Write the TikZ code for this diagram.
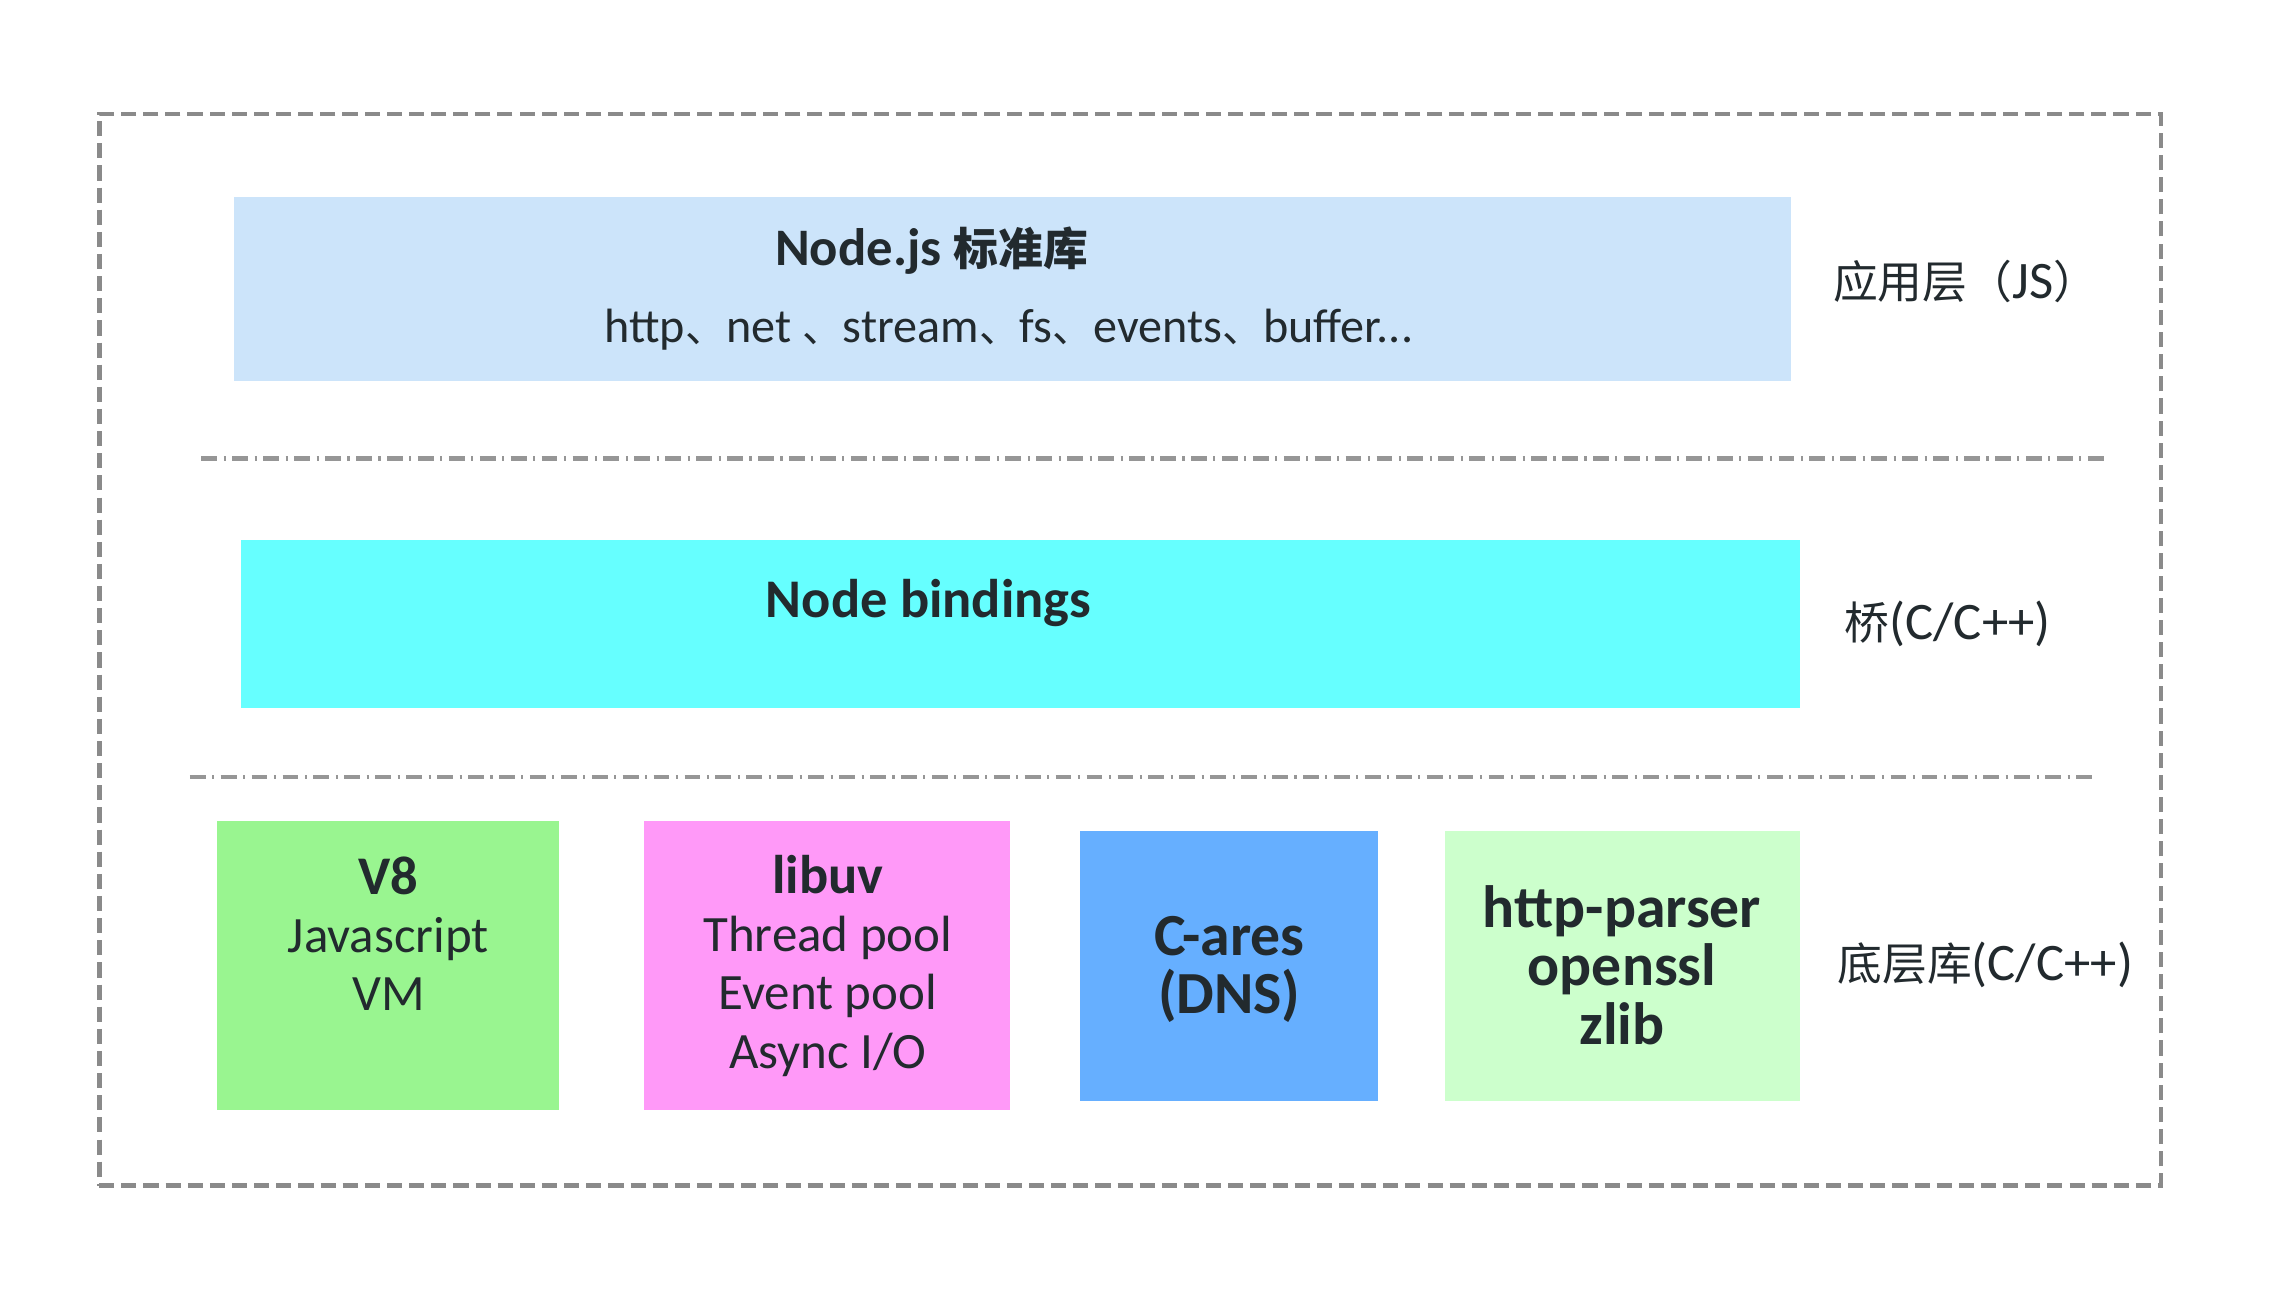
\documentclass[tikz,border=0pt]{standalone}
\usepackage{fontspec}
\setmainfont{Carlito}
\newfontfamily\cjk{Noto Sans CJK SC}[Scale=0.85]
\usepackage{tikz}
\definecolor{textdark}{HTML}{222A2E}
\definecolor{framegray}{HTML}{8A8A8A}
\definecolor{stdblue}{HTML}{CCE4FA}
\definecolor{bindcyan}{HTML}{66FFFF}
\definecolor{veightgreen}{HTML}{99F590}
\definecolor{uvpink}{HTML}{FF99F8}
\definecolor{aresblue}{HTML}{66AFFF}
\definecolor{palegreen}{HTML}{CCFFCC}
\tikzset{
    every node/.style={inner sep=0mm, text=textdark}
}
\tikzset{
    layer/.style={rectangle, draw=none},
    framebox/.style={rectangle, draw=framegray, line width=1.3pt, dash pattern=on 4.3pt off 2pt},
    sepline/.style={draw=framegray!90, line width=1.2pt, dash pattern=on 4.5pt off 1.85pt on 0.6pt off 1.85pt},
    libtext/.style={align=center, font=\fontsize{14.5}{16.6}\selectfont},
    sidetext/.style={anchor=west, font=\fontsize{15}{18}\selectfont}
}

\begin{document}
\begin{tikzpicture}[x=0.0146cm, y=-0.0146cm]
        \useasboundingbox[fill=white] (0,0) rectangle (1568.5,898.6);
        \node (frame) [framebox, minimum width=20.62cm, minimum height=10.72cm] at (774, 445) {};
        % application layer
        \node (std) [layer, fill=stdblue, minimum width=15.58cm, minimum height=1.84cm] at (693.5, 198) {};
        \node (stdtitle) [font=\fontsize{15}{18}\selectfont\bfseries] at (638, 172) {Node.js {\cjk 标准库}};
        \node (stdmods) [font=\fontsize{13.7}{16}\selectfont] at (691, 226) {http{\cjk 、}net {\cjk 、}stream{\cjk 、}fs{\cjk 、}events{\cjk 、}buffer...};
        \node (applabel) [sidetext] at (1255, 193) {{\cjk 应用层（}JS{\cjk ）}};
        % bridge
        \node (bind) [layer, fill=bindcyan, minimum width=15.59cm, minimum height=1.68cm] at (699, 427.5) {};
        \node (bindtitle) [font=\fontsize{15.5}{18}\selectfont\bfseries] at (636, 413) {Node bindings};
        \node (bridgelabel) [sidetext] at (1263, 427) {{\cjk 桥}(C/C++)};
        % low level libraries
        \node (veight) [layer, fill=veightgreen, minimum width=3.42cm, minimum height=2.89cm] at (266, 661) {};
        \node (libuv) [layer, fill=uvpink, minimum width=3.66cm, minimum height=2.89cm] at (566.5, 661) {};
        \node (cares) [layer, fill=aresblue, minimum width=2.98cm, minimum height=2.70cm] at (842, 661.5) {};
        \node (misc) [layer, fill=palegreen, minimum width=3.55cm, minimum height=2.70cm] at (1111.5, 661.5) {};
        \node (veighttext) [libtext] at (266, 639.5) {{\fontsize{15.5}{16.6}\selectfont\bfseries V8}\\Javascript\\VM};
        \node (libuvtext) [libtext] at (567, 661.5) {{\fontsize{15.5}{16.6}\selectfont\bfseries libuv}\\Thread pool\\Event pool\\Async I/O};
        \node (carestext) [libtext, font=\fontsize{17}{16.6}\selectfont\bfseries] at (842, 664) {C-ares\\(DNS)};
        \node (misctext) [libtext, font=\fontsize{17}{16.6}\selectfont\bfseries] at (1111, 661) {http-parser\\openssl\\zlib};
        \node (liblabel) [sidetext] at (1258, 661) {{\cjk 底层库}(C/C++)};
        % separators
        \coordinate (sepAl) at (138, 314);
        \coordinate (sepAr) at (1442, 314);
        \coordinate (sepBl) at (130, 532);
        \coordinate (sepBr) at (1434, 532);
        \draw [sepline] (sepAl) -- (sepAr);
        \draw [sepline] (sepBl) -- (sepBr);
\end{tikzpicture}
\end{document}
